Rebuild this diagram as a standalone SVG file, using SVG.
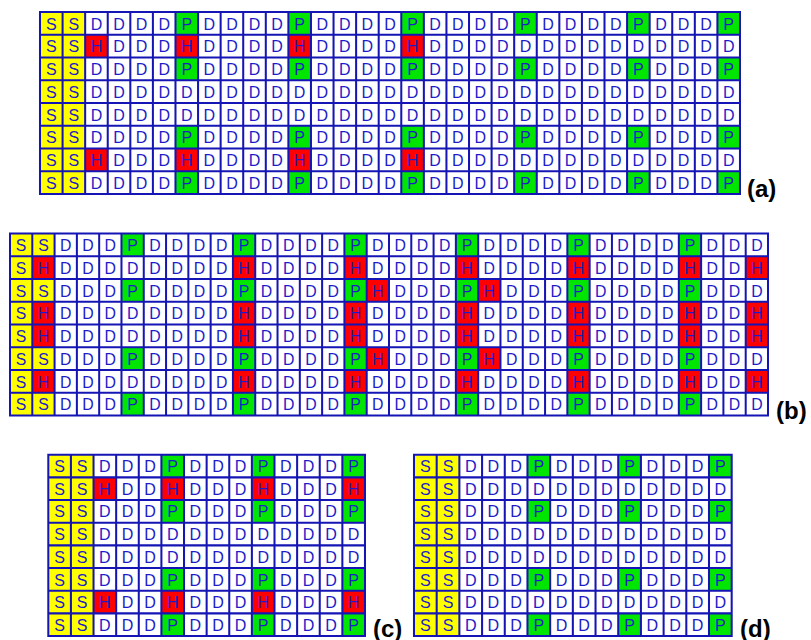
<svg xmlns="http://www.w3.org/2000/svg" width="811" height="640" viewBox="0 0 811 640">
<style>
.bg{fill:#fff}
.s{fill:#ffff00}
.p{fill:#00e600}
.h{fill:#ff0000}
.gl{fill:none;stroke:#1515b5;stroke-width:1.8;stroke-linecap:square}
.t text{font-family:"Liberation Sans",Arial,sans-serif;font-size:14.2px;fill:#1c1cc8;text-anchor:middle}
.lbl{font-family:"Liberation Sans",Arial,sans-serif;font-size:24px;font-weight:bold;fill:#000}
</style>
<rect width="811" height="640" fill="#fff"/>

<g id="panel-a" transform="translate(40,12) scale(1.129,1.1375)">
<rect class="bg" width="620" height="160"/>
<rect class="s" width="40" height="160"/>
<path class="p" d="M120 0h20v20h-20zM220 0h20v20h-20zM320 0h20v20h-20zM420 0h20v20h-20zM520 0h20v20h-20zM600 0h20v20h-20zM120 40h20v20h-20zM220 40h20v20h-20zM320 40h20v20h-20zM420 40h20v20h-20zM520 40h20v20h-20zM600 40h20v20h-20zM120 100h20v20h-20zM220 100h20v20h-20zM320 100h20v20h-20zM420 100h20v20h-20zM520 100h20v20h-20zM600 100h20v20h-20zM120 140h20v20h-20zM220 140h20v20h-20zM320 140h20v20h-20zM420 140h20v20h-20zM520 140h20v20h-20zM600 140h20v20h-20z"/>
<path class="h" d="M40 20h20v20h-20zM120 20h20v20h-20zM220 20h20v20h-20zM320 20h20v20h-20zM40 120h20v20h-20zM120 120h20v20h-20zM220 120h20v20h-20zM320 120h20v20h-20z"/>
<path class="gl" d="M0 0H620M0 20H620M0 40H620M0 60H620M0 80H620M0 100H620M0 120H620M0 140H620M0 160H620M0 0V160M20 0V160M40 0V160M60 0V160M80 0V160M100 0V160M120 0V160M140 0V160M160 0V160M180 0V160M200 0V160M220 0V160M240 0V160M260 0V160M280 0V160M300 0V160M320 0V160M340 0V160M360 0V160M380 0V160M400 0V160M420 0V160M440 0V160M460 0V160M480 0V160M500 0V160M520 0V160M540 0V160M560 0V160M580 0V160M600 0V160M620 0V160"/>
<g class="t">
<g id="a-r0" transform="translate(0,15.4)"><text x="10">S</text><text x="30">S</text><text x="50">D</text><text x="70">D</text><text x="90">D</text><text x="110">D</text><text x="130">P</text><text x="150">D</text><text x="170">D</text><text x="190">D</text><text x="210">D</text><text x="230">P</text><text x="250">D</text><text x="270">D</text><text x="290">D</text><text x="310">D</text><text x="330">P</text><text x="350">D</text><text x="370">D</text><text x="390">D</text><text x="410">D</text><text x="430">P</text><text x="450">D</text><text x="470">D</text><text x="490">D</text><text x="510">D</text><text x="530">P</text><text x="550">D</text><text x="570">D</text><text x="590">D</text><text x="610">P</text></g>
<g id="a-r1" transform="translate(0,35.4)"><text x="10">S</text><text x="30">S</text><text x="50">H</text><text x="70">D</text><text x="90">D</text><text x="110">D</text><text x="130">H</text><text x="150">D</text><text x="170">D</text><text x="190">D</text><text x="210">D</text><text x="230">H</text><text x="250">D</text><text x="270">D</text><text x="290">D</text><text x="310">D</text><text x="330">H</text><text x="350">D</text><text x="370">D</text><text x="390">D</text><text x="410">D</text><text x="430">D</text><text x="450">D</text><text x="470">D</text><text x="490">D</text><text x="510">D</text><text x="530">D</text><text x="550">D</text><text x="570">D</text><text x="590">D</text><text x="610">D</text></g>
<g id="a-r2" transform="translate(0,55.4)"><text x="10">S</text><text x="30">S</text><text x="50">D</text><text x="70">D</text><text x="90">D</text><text x="110">D</text><text x="130">P</text><text x="150">D</text><text x="170">D</text><text x="190">D</text><text x="210">D</text><text x="230">P</text><text x="250">D</text><text x="270">D</text><text x="290">D</text><text x="310">D</text><text x="330">P</text><text x="350">D</text><text x="370">D</text><text x="390">D</text><text x="410">D</text><text x="430">P</text><text x="450">D</text><text x="470">D</text><text x="490">D</text><text x="510">D</text><text x="530">P</text><text x="550">D</text><text x="570">D</text><text x="590">D</text><text x="610">P</text></g>
<g id="a-r3" transform="translate(0,75.4)"><text x="10">S</text><text x="30">S</text><text x="50">D</text><text x="70">D</text><text x="90">D</text><text x="110">D</text><text x="130">D</text><text x="150">D</text><text x="170">D</text><text x="190">D</text><text x="210">D</text><text x="230">D</text><text x="250">D</text><text x="270">D</text><text x="290">D</text><text x="310">D</text><text x="330">D</text><text x="350">D</text><text x="370">D</text><text x="390">D</text><text x="410">D</text><text x="430">D</text><text x="450">D</text><text x="470">D</text><text x="490">D</text><text x="510">D</text><text x="530">D</text><text x="550">D</text><text x="570">D</text><text x="590">D</text><text x="610">D</text></g>
<g id="a-r4" transform="translate(0,95.4)"><text x="10">S</text><text x="30">S</text><text x="50">D</text><text x="70">D</text><text x="90">D</text><text x="110">D</text><text x="130">D</text><text x="150">D</text><text x="170">D</text><text x="190">D</text><text x="210">D</text><text x="230">D</text><text x="250">D</text><text x="270">D</text><text x="290">D</text><text x="310">D</text><text x="330">D</text><text x="350">D</text><text x="370">D</text><text x="390">D</text><text x="410">D</text><text x="430">D</text><text x="450">D</text><text x="470">D</text><text x="490">D</text><text x="510">D</text><text x="530">D</text><text x="550">D</text><text x="570">D</text><text x="590">D</text><text x="610">D</text></g>
<g id="a-r5" transform="translate(0,115.4)"><text x="10">S</text><text x="30">S</text><text x="50">D</text><text x="70">D</text><text x="90">D</text><text x="110">D</text><text x="130">P</text><text x="150">D</text><text x="170">D</text><text x="190">D</text><text x="210">D</text><text x="230">P</text><text x="250">D</text><text x="270">D</text><text x="290">D</text><text x="310">D</text><text x="330">P</text><text x="350">D</text><text x="370">D</text><text x="390">D</text><text x="410">D</text><text x="430">P</text><text x="450">D</text><text x="470">D</text><text x="490">D</text><text x="510">D</text><text x="530">P</text><text x="550">D</text><text x="570">D</text><text x="590">D</text><text x="610">P</text></g>
<g id="a-r6" transform="translate(0,135.4)"><text x="10">S</text><text x="30">S</text><text x="50">H</text><text x="70">D</text><text x="90">D</text><text x="110">D</text><text x="130">H</text><text x="150">D</text><text x="170">D</text><text x="190">D</text><text x="210">D</text><text x="230">H</text><text x="250">D</text><text x="270">D</text><text x="290">D</text><text x="310">D</text><text x="330">H</text><text x="350">D</text><text x="370">D</text><text x="390">D</text><text x="410">D</text><text x="430">D</text><text x="450">D</text><text x="470">D</text><text x="490">D</text><text x="510">D</text><text x="530">D</text><text x="550">D</text><text x="570">D</text><text x="590">D</text><text x="610">D</text></g>
<g id="a-r7" transform="translate(0,155.4)"><text x="10">S</text><text x="30">S</text><text x="50">D</text><text x="70">D</text><text x="90">D</text><text x="110">D</text><text x="130">P</text><text x="150">D</text><text x="170">D</text><text x="190">D</text><text x="210">D</text><text x="230">P</text><text x="250">D</text><text x="270">D</text><text x="290">D</text><text x="310">D</text><text x="330">P</text><text x="350">D</text><text x="370">D</text><text x="390">D</text><text x="410">D</text><text x="430">P</text><text x="450">D</text><text x="470">D</text><text x="490">D</text><text x="510">D</text><text x="530">P</text><text x="550">D</text><text x="570">D</text><text x="590">D</text><text x="610">P</text></g>
</g>
</g>
<text id="label-a" class="lbl" x="747" y="197">(a)</text>

<g id="panel-b" transform="translate(10,233.5) scale(1.1147,1.1375)">
<rect class="bg" width="680" height="160"/>
<path class="s" d="M0 0h20v160h-20zM20 0h20v20h-20zM20 40h20v20h-20zM20 100h20v20h-20zM20 140h20v20h-20z"/>
<path class="p" d="M100 0h20v20h-20zM200 0h20v20h-20zM300 0h20v20h-20zM400 0h20v20h-20zM500 0h20v20h-20zM600 0h20v20h-20zM100 40h20v20h-20zM200 40h20v20h-20zM300 40h20v20h-20zM400 40h20v20h-20zM500 40h20v20h-20zM600 40h20v20h-20zM100 100h20v20h-20zM200 100h20v20h-20zM300 100h20v20h-20zM400 100h20v20h-20zM500 100h20v20h-20zM600 100h20v20h-20zM100 140h20v20h-20zM200 140h20v20h-20zM300 140h20v20h-20zM400 140h20v20h-20zM500 140h20v20h-20zM600 140h20v20h-20z"/>
<path class="h" d="M20 20h20v20h-20zM200 20h20v20h-20zM300 20h20v20h-20zM400 20h20v20h-20zM500 20h20v20h-20zM600 20h20v20h-20zM660 20h20v20h-20zM20 60h20v40h-20zM200 60h20v40h-20zM300 60h20v40h-20zM400 60h20v40h-20zM500 60h20v40h-20zM600 60h20v40h-20zM660 60h20v40h-20zM20 120h20v20h-20zM200 120h20v20h-20zM300 120h20v20h-20zM400 120h20v20h-20zM500 120h20v20h-20zM600 120h20v20h-20zM660 120h20v20h-20zM320 40h20v20h-20zM420 40h20v20h-20zM320 100h20v20h-20zM420 100h20v20h-20z"/>
<path class="gl" d="M0 0H680M0 20H680M0 40H680M0 60H680M0 80H680M0 100H680M0 120H680M0 140H680M0 160H680M0 0V160M20 0V160M40 0V160M60 0V160M80 0V160M100 0V160M120 0V160M140 0V160M160 0V160M180 0V160M200 0V160M220 0V160M240 0V160M260 0V160M280 0V160M300 0V160M320 0V160M340 0V160M360 0V160M380 0V160M400 0V160M420 0V160M440 0V160M460 0V160M480 0V160M500 0V160M520 0V160M540 0V160M560 0V160M580 0V160M600 0V160M620 0V160M640 0V160M660 0V160M680 0V160"/>
<g class="t">
<g id="b-r0" transform="translate(0,15.4)"><text x="10">S</text><text x="30">S</text><text x="50">D</text><text x="70">D</text><text x="90">D</text><text x="110">P</text><text x="130">D</text><text x="150">D</text><text x="170">D</text><text x="190">D</text><text x="210">P</text><text x="230">D</text><text x="250">D</text><text x="270">D</text><text x="290">D</text><text x="310">P</text><text x="330">D</text><text x="350">D</text><text x="370">D</text><text x="390">D</text><text x="410">P</text><text x="430">D</text><text x="450">D</text><text x="470">D</text><text x="490">D</text><text x="510">P</text><text x="530">D</text><text x="550">D</text><text x="570">D</text><text x="590">D</text><text x="610">P</text><text x="630">D</text><text x="650">D</text><text x="670">D</text></g>
<g id="b-r1" transform="translate(0,35.4)"><text x="10">S</text><text x="30">H</text><text x="50">D</text><text x="70">D</text><text x="90">D</text><text x="110">D</text><text x="130">D</text><text x="150">D</text><text x="170">D</text><text x="190">D</text><text x="210">H</text><text x="230">D</text><text x="250">D</text><text x="270">D</text><text x="290">D</text><text x="310">H</text><text x="330">D</text><text x="350">D</text><text x="370">D</text><text x="390">D</text><text x="410">H</text><text x="430">D</text><text x="450">D</text><text x="470">D</text><text x="490">D</text><text x="510">H</text><text x="530">D</text><text x="550">D</text><text x="570">D</text><text x="590">D</text><text x="610">H</text><text x="630">D</text><text x="650">D</text><text x="670">H</text></g>
<g id="b-r2" transform="translate(0,55.4)"><text x="10">S</text><text x="30">S</text><text x="50">D</text><text x="70">D</text><text x="90">D</text><text x="110">P</text><text x="130">D</text><text x="150">D</text><text x="170">D</text><text x="190">D</text><text x="210">P</text><text x="230">D</text><text x="250">D</text><text x="270">D</text><text x="290">D</text><text x="310">P</text><text x="330">H</text><text x="350">D</text><text x="370">D</text><text x="390">D</text><text x="410">P</text><text x="430">H</text><text x="450">D</text><text x="470">D</text><text x="490">D</text><text x="510">P</text><text x="530">D</text><text x="550">D</text><text x="570">D</text><text x="590">D</text><text x="610">P</text><text x="630">D</text><text x="650">D</text><text x="670">D</text></g>
<g id="b-r3" transform="translate(0,75.4)"><text x="10">S</text><text x="30">H</text><text x="50">D</text><text x="70">D</text><text x="90">D</text><text x="110">D</text><text x="130">D</text><text x="150">D</text><text x="170">D</text><text x="190">D</text><text x="210">H</text><text x="230">D</text><text x="250">D</text><text x="270">D</text><text x="290">D</text><text x="310">H</text><text x="330">D</text><text x="350">D</text><text x="370">D</text><text x="390">D</text><text x="410">H</text><text x="430">D</text><text x="450">D</text><text x="470">D</text><text x="490">D</text><text x="510">H</text><text x="530">D</text><text x="550">D</text><text x="570">D</text><text x="590">D</text><text x="610">H</text><text x="630">D</text><text x="650">D</text><text x="670">H</text></g>
<g id="b-r4" transform="translate(0,95.4)"><text x="10">S</text><text x="30">H</text><text x="50">D</text><text x="70">D</text><text x="90">D</text><text x="110">D</text><text x="130">D</text><text x="150">D</text><text x="170">D</text><text x="190">D</text><text x="210">H</text><text x="230">D</text><text x="250">D</text><text x="270">D</text><text x="290">D</text><text x="310">H</text><text x="330">D</text><text x="350">D</text><text x="370">D</text><text x="390">D</text><text x="410">H</text><text x="430">D</text><text x="450">D</text><text x="470">D</text><text x="490">D</text><text x="510">H</text><text x="530">D</text><text x="550">D</text><text x="570">D</text><text x="590">D</text><text x="610">H</text><text x="630">D</text><text x="650">D</text><text x="670">H</text></g>
<g id="b-r5" transform="translate(0,115.4)"><text x="10">S</text><text x="30">S</text><text x="50">D</text><text x="70">D</text><text x="90">D</text><text x="110">P</text><text x="130">D</text><text x="150">D</text><text x="170">D</text><text x="190">D</text><text x="210">P</text><text x="230">D</text><text x="250">D</text><text x="270">D</text><text x="290">D</text><text x="310">P</text><text x="330">H</text><text x="350">D</text><text x="370">D</text><text x="390">D</text><text x="410">P</text><text x="430">H</text><text x="450">D</text><text x="470">D</text><text x="490">D</text><text x="510">P</text><text x="530">D</text><text x="550">D</text><text x="570">D</text><text x="590">D</text><text x="610">P</text><text x="630">D</text><text x="650">D</text><text x="670">D</text></g>
<g id="b-r6" transform="translate(0,135.4)"><text x="10">S</text><text x="30">H</text><text x="50">D</text><text x="70">D</text><text x="90">D</text><text x="110">D</text><text x="130">D</text><text x="150">D</text><text x="170">D</text><text x="190">D</text><text x="210">H</text><text x="230">D</text><text x="250">D</text><text x="270">D</text><text x="290">D</text><text x="310">H</text><text x="330">D</text><text x="350">D</text><text x="370">D</text><text x="390">D</text><text x="410">H</text><text x="430">D</text><text x="450">D</text><text x="470">D</text><text x="490">D</text><text x="510">H</text><text x="530">D</text><text x="550">D</text><text x="570">D</text><text x="590">D</text><text x="610">H</text><text x="630">D</text><text x="650">D</text><text x="670">H</text></g>
<g id="b-r7" transform="translate(0,155.4)"><text x="10">S</text><text x="30">S</text><text x="50">D</text><text x="70">D</text><text x="90">D</text><text x="110">P</text><text x="130">D</text><text x="150">D</text><text x="170">D</text><text x="190">D</text><text x="210">P</text><text x="230">D</text><text x="250">D</text><text x="270">D</text><text x="290">D</text><text x="310">P</text><text x="330">D</text><text x="350">D</text><text x="370">D</text><text x="390">D</text><text x="410">P</text><text x="430">D</text><text x="450">D</text><text x="470">D</text><text x="490">D</text><text x="510">P</text><text x="530">D</text><text x="550">D</text><text x="570">D</text><text x="590">D</text><text x="610">P</text><text x="630">D</text><text x="650">D</text><text x="670">D</text></g>
</g>
</g>
<text id="label-b" class="lbl" x="776" y="419">(b)</text>

<g id="panel-c" transform="translate(48.3,454.7) scale(1.131,1.1335)">
<rect class="bg" width="280" height="160"/>
<rect class="s" width="40" height="160"/>
<path class="p" d="M100 0h20v20h-20zM180 0h20v20h-20zM260 0h20v20h-20zM100 40h20v20h-20zM180 40h20v20h-20zM260 40h20v20h-20zM100 100h20v20h-20zM180 100h20v20h-20zM260 100h20v20h-20zM100 140h20v20h-20zM180 140h20v20h-20zM260 140h20v20h-20z"/>
<path class="h" d="M40 20h20v20h-20zM100 20h20v20h-20zM180 20h20v20h-20zM260 20h20v20h-20zM40 120h20v20h-20zM100 120h20v20h-20zM180 120h20v20h-20zM260 120h20v20h-20z"/>
<path class="gl" d="M0 0H280M0 20H280M0 40H280M0 60H280M0 80H280M0 100H280M0 120H280M0 140H280M0 160H280M0 0V160M20 0V160M40 0V160M60 0V160M80 0V160M100 0V160M120 0V160M140 0V160M160 0V160M180 0V160M200 0V160M220 0V160M240 0V160M260 0V160M280 0V160"/>
<g class="t">
<g id="c-r0" transform="translate(0,15.4)"><text x="10">S</text><text x="30">S</text><text x="50">D</text><text x="70">D</text><text x="90">D</text><text x="110">P</text><text x="130">D</text><text x="150">D</text><text x="170">D</text><text x="190">P</text><text x="210">D</text><text x="230">D</text><text x="250">D</text><text x="270">P</text></g>
<g id="c-r1" transform="translate(0,35.4)"><text x="10">S</text><text x="30">S</text><text x="50">H</text><text x="70">D</text><text x="90">D</text><text x="110">H</text><text x="130">D</text><text x="150">D</text><text x="170">D</text><text x="190">H</text><text x="210">D</text><text x="230">D</text><text x="250">D</text><text x="270">H</text></g>
<g id="c-r2" transform="translate(0,55.4)"><text x="10">S</text><text x="30">S</text><text x="50">D</text><text x="70">D</text><text x="90">D</text><text x="110">P</text><text x="130">D</text><text x="150">D</text><text x="170">D</text><text x="190">P</text><text x="210">D</text><text x="230">D</text><text x="250">D</text><text x="270">P</text></g>
<g id="c-r3" transform="translate(0,75.4)"><text x="10">S</text><text x="30">S</text><text x="50">D</text><text x="70">D</text><text x="90">D</text><text x="110">D</text><text x="130">D</text><text x="150">D</text><text x="170">D</text><text x="190">D</text><text x="210">D</text><text x="230">D</text><text x="250">D</text><text x="270">D</text></g>
<g id="c-r4" transform="translate(0,95.4)"><text x="10">S</text><text x="30">S</text><text x="50">D</text><text x="70">D</text><text x="90">D</text><text x="110">D</text><text x="130">D</text><text x="150">D</text><text x="170">D</text><text x="190">D</text><text x="210">D</text><text x="230">D</text><text x="250">D</text><text x="270">D</text></g>
<g id="c-r5" transform="translate(0,115.4)"><text x="10">S</text><text x="30">S</text><text x="50">D</text><text x="70">D</text><text x="90">D</text><text x="110">P</text><text x="130">D</text><text x="150">D</text><text x="170">D</text><text x="190">P</text><text x="210">D</text><text x="230">D</text><text x="250">D</text><text x="270">P</text></g>
<g id="c-r6" transform="translate(0,135.4)"><text x="10">S</text><text x="30">S</text><text x="50">H</text><text x="70">D</text><text x="90">D</text><text x="110">H</text><text x="130">D</text><text x="150">D</text><text x="170">D</text><text x="190">H</text><text x="210">D</text><text x="230">D</text><text x="250">D</text><text x="270">H</text></g>
<g id="c-r7" transform="translate(0,155.4)"><text x="10">S</text><text x="30">S</text><text x="50">D</text><text x="70">D</text><text x="90">D</text><text x="110">P</text><text x="130">D</text><text x="150">D</text><text x="170">D</text><text x="190">P</text><text x="210">D</text><text x="230">D</text><text x="250">D</text><text x="270">P</text></g>
</g>
</g>
<text id="label-c" class="lbl" x="373" y="637">(c)</text>

<g id="panel-d" transform="translate(414,454.7) scale(1.1346,1.1335)">
<rect class="bg" width="280" height="160"/>
<rect class="s" width="40" height="160"/>
<path class="p" d="M100 0h20v20h-20zM180 0h20v20h-20zM260 0h20v20h-20zM100 40h20v20h-20zM180 40h20v20h-20zM260 40h20v20h-20zM100 100h20v20h-20zM180 100h20v20h-20zM260 100h20v20h-20zM100 140h20v20h-20zM180 140h20v20h-20zM260 140h20v20h-20z"/>
<path class="gl" d="M0 0H280M0 20H280M0 40H280M0 60H280M0 80H280M0 100H280M0 120H280M0 140H280M0 160H280M0 0V160M20 0V160M40 0V160M60 0V160M80 0V160M100 0V160M120 0V160M140 0V160M160 0V160M180 0V160M200 0V160M220 0V160M240 0V160M260 0V160M280 0V160"/>
<g class="t">
<g id="d-r0" transform="translate(0,15.4)"><text x="10">S</text><text x="30">S</text><text x="50">D</text><text x="70">D</text><text x="90">D</text><text x="110">P</text><text x="130">D</text><text x="150">D</text><text x="170">D</text><text x="190">P</text><text x="210">D</text><text x="230">D</text><text x="250">D</text><text x="270">P</text></g>
<g id="d-r1" transform="translate(0,35.4)"><text x="10">S</text><text x="30">S</text><text x="50">D</text><text x="70">D</text><text x="90">D</text><text x="110">D</text><text x="130">D</text><text x="150">D</text><text x="170">D</text><text x="190">D</text><text x="210">D</text><text x="230">D</text><text x="250">D</text><text x="270">D</text></g>
<g id="d-r2" transform="translate(0,55.4)"><text x="10">S</text><text x="30">S</text><text x="50">D</text><text x="70">D</text><text x="90">D</text><text x="110">P</text><text x="130">D</text><text x="150">D</text><text x="170">D</text><text x="190">P</text><text x="210">D</text><text x="230">D</text><text x="250">D</text><text x="270">P</text></g>
<g id="d-r3" transform="translate(0,75.4)"><text x="10">S</text><text x="30">S</text><text x="50">D</text><text x="70">D</text><text x="90">D</text><text x="110">D</text><text x="130">D</text><text x="150">D</text><text x="170">D</text><text x="190">D</text><text x="210">D</text><text x="230">D</text><text x="250">D</text><text x="270">D</text></g>
<g id="d-r4" transform="translate(0,95.4)"><text x="10">S</text><text x="30">S</text><text x="50">D</text><text x="70">D</text><text x="90">D</text><text x="110">D</text><text x="130">D</text><text x="150">D</text><text x="170">D</text><text x="190">D</text><text x="210">D</text><text x="230">D</text><text x="250">D</text><text x="270">D</text></g>
<g id="d-r5" transform="translate(0,115.4)"><text x="10">S</text><text x="30">S</text><text x="50">D</text><text x="70">D</text><text x="90">D</text><text x="110">P</text><text x="130">D</text><text x="150">D</text><text x="170">D</text><text x="190">P</text><text x="210">D</text><text x="230">D</text><text x="250">D</text><text x="270">P</text></g>
<g id="d-r6" transform="translate(0,135.4)"><text x="10">S</text><text x="30">S</text><text x="50">D</text><text x="70">D</text><text x="90">D</text><text x="110">D</text><text x="130">D</text><text x="150">D</text><text x="170">D</text><text x="190">D</text><text x="210">D</text><text x="230">D</text><text x="250">D</text><text x="270">D</text></g>
<g id="d-r7" transform="translate(0,155.4)"><text x="10">S</text><text x="30">S</text><text x="50">D</text><text x="70">D</text><text x="90">D</text><text x="110">P</text><text x="130">D</text><text x="150">D</text><text x="170">D</text><text x="190">P</text><text x="210">D</text><text x="230">D</text><text x="250">D</text><text x="270">P</text></g>
</g>
</g>
<text id="label-d" class="lbl" x="740" y="637">(d)</text>
</svg>
